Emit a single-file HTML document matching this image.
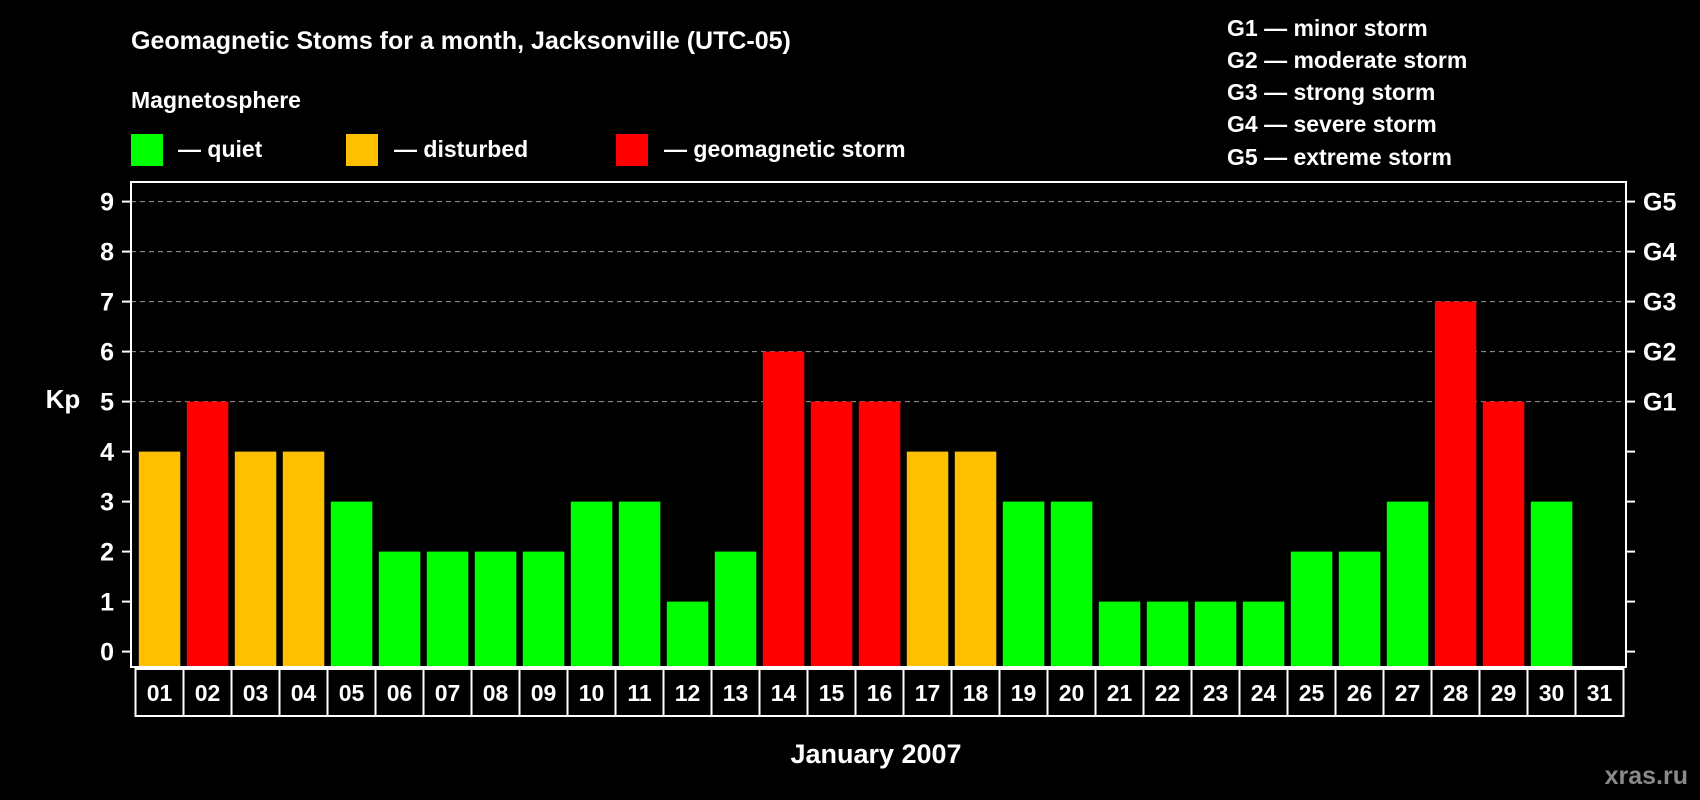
<!DOCTYPE html>
<html><head><meta charset="utf-8"><style>
html,body{margin:0;padding:0;background:#000;width:1700px;height:800px;overflow:hidden}
svg{display:block;font-family:"Liberation Sans",Arial,sans-serif;font-weight:bold}
</style></head><body>
<svg id="chart" width="1700" height="800" viewBox="0 0 1700 800">
<rect width="1700" height="800" fill="#000"/>
<text x="131" y="49" fill="#fff" font-size="25">Geomagnetic Stoms for a month, Jacksonville (UTC-05)</text>
<text x="131" y="108" fill="#fff" font-size="23">Magnetosphere</text>
<rect x="131" y="134" width="32" height="32" fill="#00ff00"/>
<text x="178" y="157" fill="#fff" font-size="23">— quiet</text>
<rect x="346" y="134" width="32" height="32" fill="#ffc000"/>
<text x="394" y="157" fill="#fff" font-size="23">— disturbed</text>
<rect x="616" y="134" width="32" height="32" fill="#ff0000"/>
<text x="664" y="157" fill="#fff" font-size="23">— geomagnetic storm</text>
<g fill="#fff" font-size="23">
<text x="1227" y="36">G1 — minor storm</text>
<text x="1227" y="68">G2 — moderate storm</text>
<text x="1227" y="100">G3 — strong storm</text>
<text x="1227" y="132">G4 — severe storm</text>
<text x="1227" y="165">G5 — extreme storm</text>
</g>
<text x="63" y="408" fill="#fff" font-size="26" text-anchor="middle">Kp</text>
<text x="876" y="763" fill="#fff" font-size="27" text-anchor="middle">January 2007</text>
<text x="1688" y="784" fill="#8a8a8a" font-size="25" text-anchor="end">xras.ru</text>
<g id="plot"></g>
</svg>
<script>
const days = ["01","02","03","04","05","06","07","08","09","10","11","12","13","14","15","16","17","18","19","20","21","22","23","24","25","26","27","28","29","30","31"];
const kpValues = [4,5,4,4,3,2,2,2,2,3,3,1,2,6,5,5,4,4,3,3,1,1,1,1,2,2,3,7,5,3,null];
const yTicks = [0,1,2,3,4,5,6,7,8,9];
const gLabels = ["","","","","","G1","G2","G3","G4","G5"];

const NS = "http://www.w3.org/2000/svg";
const plot = document.getElementById("plot");
const L = 131, R = 1626, T = 182, B = 667;
const y = v => 651.6 - v * 50;
const cellW = 48, x0 = 135.5;
const x = i => x0 + i * cellW;
function mk(tag, attrs){const e=document.createElementNS(NS,tag);for(const k in attrs)e.setAttribute(k,attrs[k]);plot.appendChild(e);return e;}
function color(v){return v>=5?"#ff0000":(v>=4?"#ffc000":"#00ff00");}

yTicks.forEach((t,i)=>{
  if(t>=5){
    const g=mk("line",{x1:L,x2:R,y1:y(t),y2:y(t),stroke:"#999","stroke-width":1,"stroke-dasharray":"5,4"});
    
    
  }
  const tl=mk("line",{x1:L-9,x2:L,y1:y(t),y2:y(t),stroke:"#fff","stroke-width":2});
  
  
  const tr=mk("line",{x1:R,x2:R+9,y1:y(t),y2:y(t),stroke:"#fff","stroke-width":2});
  
  
  const lb=mk("text",{x:114,y:y(t)+9,fill:"#fff","font-size":25,"text-anchor":"end"});
  lb.textContent=t;
  
  
  if(gLabels[i]){
    const gl=mk("text",{x:1643,y:y(t)+9,fill:"#fff","font-size":25});
    gl.textContent=gLabels[i];
    
    
  }
});

kpValues.forEach((v,i)=>{
  if(v===null)return;
  const b=mk("rect",{x:x(i)+3.3,y:y(v),width:41.5,height:B-y(v),fill:color(v)});
  
  
});

const fr=mk("rect",{x:L,y:T,width:R-L,height:B-T,fill:"none",stroke:"#fff","stroke-width":2});



days.forEach((d,i)=>{
  const c=mk("rect",{x:x(i),y:669,width:cellW,height:47,fill:"none",stroke:"#fff","stroke-width":2});
  
  
  const t=mk("text",{x:x(i)+cellW/2,y:701,fill:"#fff","font-size":23,"text-anchor":"middle"});
  t.textContent=d;
  
  
});
</script>
</body></html>
